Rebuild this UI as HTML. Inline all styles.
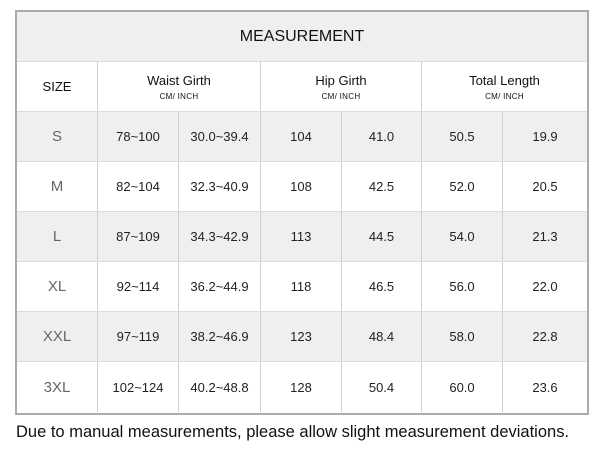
<!DOCTYPE html>
<html><head><meta charset="utf-8"><style>
body{margin:0;width:600px;height:450px;background:#fff;font-family:"Liberation Sans",Arial,sans-serif;position:relative;overflow:hidden}
.t{position:absolute;left:15px;top:10px;width:570px;height:401px;border:2px solid #ababab;box-sizing:content-box;background:#fff}
.r{position:absolute;left:0;width:570px;height:50px;border-bottom:1px solid #dcdcdc;box-sizing:border-box}
.g{background:#efefef}
.c{position:absolute;top:0;height:100%;display:flex;align-items:center;justify-content:center;font-size:13px;color:#222;box-sizing:border-box}
.vl{border-left:1px solid #cfcfcf}
.sz{font-size:15px;color:#666}
.h2{flex-direction:column;font-size:13px;color:#111}
.h2 small{font-size:8px;margin-top:4px;letter-spacing:.3px}
.note{position:absolute;left:16px;top:423px;font-size:16.5px;color:#111;white-space:nowrap}
</style></head><body>
<div class="t">
 <div class="r g" style="top:0"><div class="c" style="left:0;width:570px;font-size:16px;color:#111">MEASUREMENT</div></div>
 <div class="r" style="top:50px">
  <div class="c" style="left:0;width:80px;color:#111">SIZE</div>
  <div class="c h2 vl" style="left:80px;width:163px"><span>Waist Girth</span><small>CM/ INCH</small></div>
  <div class="c h2 vl" style="left:243px;width:161px"><span>Hip Girth</span><small>CM/ INCH</small></div>
  <div class="c h2 vl" style="left:404px;width:166px"><span>Total Length</span><small>CM/ INCH</small></div>
 </div>
 <div id="rows"></div>
</div>
<div class="note">Due to manual measurements, please allow slight measurement deviations.</div>
<script>
const sizes=["S","M","L","XL","XXL","3XL"];
const waistCm=["78~100","82~104","87~109","92~114","97~119","102~124"];
const waistIn=["30.0~39.4","32.3~40.9","34.3~42.9","36.2~44.9","38.2~46.9","40.2~48.8"];
const hipCm=["104","108","113","118","123","128"];
const hipIn=["41.0","42.5","44.5","46.5","48.4","50.4"];
const lenCm=["50.5","52.0","54.0","56.0","58.0","60.0"];
const lenIn=["19.9","20.5","21.3","22.0","22.8","23.6"];
const cols=[[0,80],[80,81],[161,82],[243,81],[324,80],[404,81],[485,85]];
const host=document.getElementById('rows');
sizes.forEach((s,i)=>{
 const r=document.createElement('div');
 r.className='r'+(i%2==0?' g':'');
 r.style.top=(100+i*50)+'px';
 if(i==sizes.length-1)r.style.borderBottom='none';
 
 
 const vals=[s,waistCm[i],waistIn[i],hipCm[i],hipIn[i],lenCm[i],lenIn[i]];
 vals.forEach((v,j)=>{
  const c=document.createElement('div');
  c.className='c'+(j?' vl':' sz');
  c.style.left=cols[j][0]+'px';c.style.width=cols[j][1]+'px';
  c.textContent=v;
  
  
  r.appendChild(c);
 });
 host.appendChild(r);
});
</script>
</body></html>
